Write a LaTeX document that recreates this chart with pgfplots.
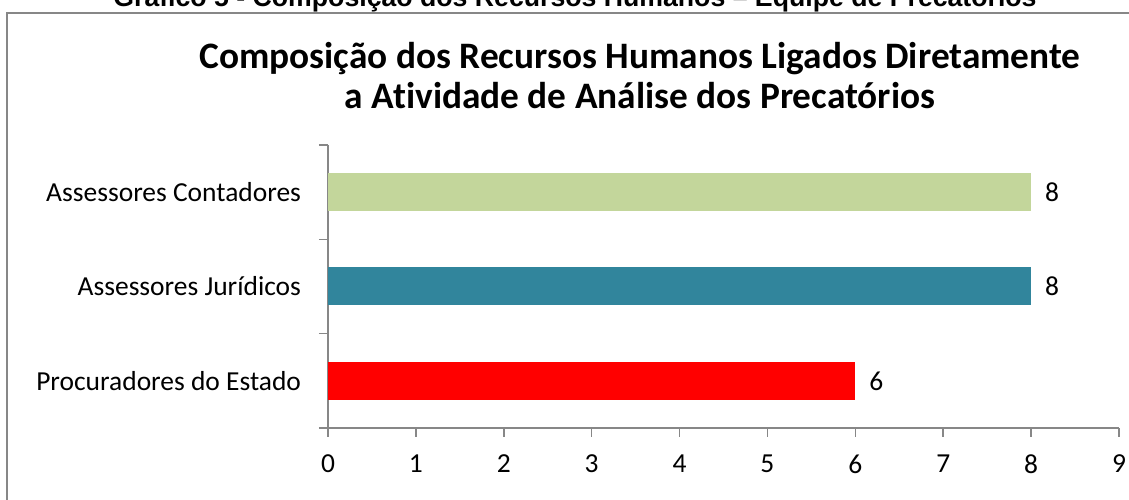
\documentclass[border=0pt]{standalone}
\usepackage{fontspec}
\setmainfont{Carlito}[Ligatures=NoCommon]
\newfontfamily\arialfont{Liberation Sans}
\usepackage{pgfplots}
\pgfplotsset{compat=1.18}

\definecolor{verde}{HTML}{C3D69B}
\definecolor{azul}{HTML}{31859C}
\definecolor{vermelho}{HTML}{FF0000}
\definecolor{eixo}{HTML}{878787}

\begin{document}
\begin{tikzpicture}[x=0.75pt,y=0.75pt]
\useasboundingbox (0,0) rectangle (1129,500);
\clip (0,0) rectangle (1129,500);
% moldura do grafico
\draw[draw=eixo, line width=1.2pt] (7,487) rectangle (1140,-20);
% legenda do documento (cortada no topo)
\node[anchor=base, inner sep=0pt, font=\arialfont\bfseries\fontsize{20}{24}\selectfont]
  at (575,493) {Gráfico 5 - Composição dos Recursos Humanos – Equipe de Precatórios};
% titulo
\node[anchor=base, inner sep=0pt, font=\bfseries\fontsize{28}{32}\selectfont]
  at (640,431) {Composição dos Recursos Humanos Ligados Diretamente};
\node[anchor=base, inner sep=0pt, font=\bfseries\fontsize{28}{32}\selectfont]
  at (640,391) {a Atividade de Análise dos Precatórios};

\begin{axis}[
    at={(246pt,54pt)}, anchor=south west,
    scale only axis,
    width=593.25pt, height=212.25pt,
    xbar,
    bar width=28.5pt,
    bar shift=0pt,
    xmin=0, xmax=9,
    ymin=-0.5, ymax=2.5,
    xtick={0,1,...,9},
    ytick={0,1,2},
    yticklabels={Procuradores do Estado, Assessores Jurídicos, Assessores Contadores},
    minor ytick={-0.5,0.5,1.5,2.5},
    axis x line*=bottom,
    axis y line*=left,
    axis line style={-, draw=eixo, line width=1.2pt},
    tick style={draw=eixo, line width=1.2pt},
    major y tick style={draw=none},
    tick align=outside,
    major tick length=6.75pt,
    minor tick length=6.75pt,
    /pgf/number format/assume math mode=true,
    tick label style={font=\fontsize{20.6}{24}\selectfont},
    xticklabel style={yshift=-10pt},
    yticklabel style={xshift=-10pt},
    nodes near coords,
    every node near coord/.append style={anchor=west, xshift=7pt,
        font=\fontsize{20.6}{24}\selectfont},
]
\addplot[fill=vermelho, draw=none] coordinates {(6,0)};
\addplot[fill=azul, draw=none] coordinates {(8,1)};
\addplot[fill=verde, draw=none] coordinates {(8,2)};
\end{axis}
\end{tikzpicture}
\end{document}
